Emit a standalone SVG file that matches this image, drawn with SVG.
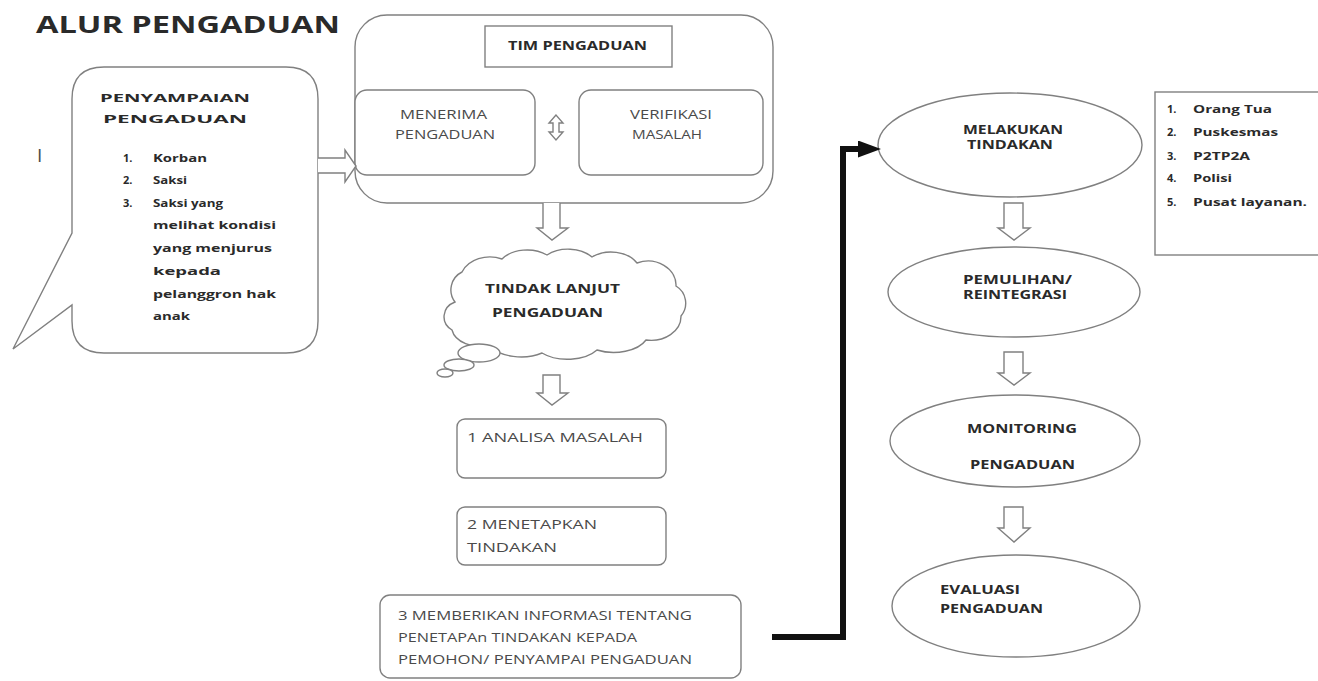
<svg xmlns="http://www.w3.org/2000/svg" width="1318" height="681" viewBox="0 0 1318 681">
<style>
.ln{fill:#fff;stroke:#808080;stroke-width:1.4}
.nf{fill:none;stroke:#808080;stroke-width:1.4}
.b{font-family:"Open Sans","Liberation Sans",sans-serif;font-weight:700;fill:#2a2a2a}
.r{font-family:"Open Sans","Liberation Sans",sans-serif;font-weight:400;fill:#4a4a4a}
.s11{font-size:11px}
.s12{font-size:12px}
</style>
<defs>
<marker id="ah" viewBox="0 0 23 17" refX="2" refY="8.5" markerWidth="23" markerHeight="17" orient="auto" markerUnits="userSpaceOnUse">
<path d="M0,0 L23,8.5 L0,17 Z" fill="#111"/>
</marker>
</defs>
<rect width="1318" height="681" fill="#fff"/>

<text class="b" x="36" y="33" font-size="24" textLength="304" lengthAdjust="spacingAndGlyphs">ALUR PENGADUAN</text>
<text class="r" x="37" y="162" font-size="19" fill="#333">I</text>

<g id="penyampaian">
<path class="ln" d="M104,67 H286 Q318,67 318,99 V321 Q318,353 286,353 H104 Q72,353 72,321 V305 L13,349 L72,233 V99 Q72,67 104,67 Z"/>
<text class="b s11" x="100" y="102" textLength="150" lengthAdjust="spacingAndGlyphs">PENYAMPAIAN</text>
<text class="b s11" x="103" y="123" textLength="144" lengthAdjust="spacingAndGlyphs">PENGADUAN</text>
<text class="b s11" x="123" y="162">1.</text>
<text class="b s11" x="153" y="162" textLength="54" lengthAdjust="spacingAndGlyphs">Korban</text>
<text class="b s11" x="123" y="184">2.</text>
<text class="b s11" x="153" y="184" textLength="34" lengthAdjust="spacingAndGlyphs">Saksi</text>
<text class="b s11" x="123" y="207">3.</text>
<text class="b s11" x="153" y="207" textLength="70" lengthAdjust="spacingAndGlyphs">Saksi yang</text>
<text class="b s11" x="153" y="229" textLength="123" lengthAdjust="spacingAndGlyphs">melihat kondisi</text>
<text class="b s11" x="153" y="252" textLength="119" lengthAdjust="spacingAndGlyphs">yang menjurus</text>
<text class="b s11" x="153" y="275" textLength="68" lengthAdjust="spacingAndGlyphs">kepada</text>
<text class="b s11" x="153" y="298" textLength="123" lengthAdjust="spacingAndGlyphs">pelanggron hak</text>
<text class="b s11" x="153" y="320" textLength="37" lengthAdjust="spacingAndGlyphs">anak</text>
</g>

<g id="tim-pengaduan">
<rect class="ln" x="355" y="15" width="418" height="188" rx="32"/>
<rect class="ln" x="485" y="26" width="187" height="41"/>
<text class="b" x="508" y="50" font-size="12" textLength="139" lengthAdjust="spacingAndGlyphs">TIM PENGADUAN</text>
</g>
<g id="menerima">
<rect class="ln" x="355" y="90" width="180" height="85" rx="12"/>
<text class="r s12" x="400" y="119" textLength="87" lengthAdjust="spacingAndGlyphs">MENERIMA</text>
<text class="r s12" x="395" y="139" textLength="100" lengthAdjust="spacingAndGlyphs">PENGADUAN</text>
</g>
<g id="verifikasi">
<rect class="ln" x="579" y="90" width="184" height="85" rx="12"/>
<text class="r s12" x="630" y="119" textLength="82" lengthAdjust="spacingAndGlyphs">VERIFIKASI</text>
<text class="r s12" x="632" y="139" textLength="70" lengthAdjust="spacingAndGlyphs">MASALAH</text>
</g>

<g id="tindak-lanjut">
<path class="ln" d="M455,302 A20 20 0 0 1 462,272 A30 24 0 0 1 502,259 A30 20 0 0 1 547,255 A30 20 0 0 1 592,257 A30 22 0 0 1 637,263 A28 24 0 0 1 676,286 A20 20 0 0 1 681,316 A30 24 0 0 1 646,340 A35 20 0 0 1 597,350 A35 20 0 0 1 542,353 A35 20 0 0 1 490,346 A30 20 0 0 1 452,330 A18 16 0 0 1 455,302 Z"/>
<ellipse class="ln" cx="479" cy="353" rx="21" ry="9"/>
<ellipse class="ln" cx="459" cy="365" rx="15" ry="6"/>
<ellipse class="ln" cx="445" cy="373" rx="8" ry="4"/>
<text class="b s12" x="485" y="293" textLength="135" lengthAdjust="spacingAndGlyphs">TINDAK LANJUT</text>
<text class="b s12" x="492" y="317" textLength="111" lengthAdjust="spacingAndGlyphs">PENGADUAN</text>
</g>

<g id="analisa">
<rect class="ln" x="457" y="419" width="209" height="59" rx="8"/>
<text class="r s12" x="467" y="442" textLength="176" lengthAdjust="spacingAndGlyphs">1 ANALISA MASALAH</text>
</g>
<g id="menetapkan">
<rect class="ln" x="457" y="507" width="209" height="58" rx="8"/>
<text class="r s12" x="467" y="529" textLength="130" lengthAdjust="spacingAndGlyphs">2 MENETAPKAN</text>
<text class="r s12" x="467" y="552" textLength="90" lengthAdjust="spacingAndGlyphs">TINDAKAN</text>
</g>
<g id="memberikan">
<rect class="ln" x="380" y="595" width="361" height="83" rx="10"/>
<text class="r s12" x="398" y="620" textLength="294" lengthAdjust="spacingAndGlyphs">3 MEMBERIKAN INFORMASI TENTANG</text>
<text class="r s12" x="398" y="642" textLength="239" lengthAdjust="spacingAndGlyphs">PENETAPAn TINDAKAN KEPADA</text>
<text class="r s12" x="398" y="664" textLength="294" lengthAdjust="spacingAndGlyphs">PEMOHON/ PENYAMPAI PENGADUAN</text>
</g>

<g id="melakukan">
<ellipse class="ln" cx="1010" cy="145" rx="132" ry="52"/>
<text class="b s12" x="963" y="134" textLength="100" lengthAdjust="spacingAndGlyphs">MELAKUKAN</text>
<text class="b s12" x="967" y="149" textLength="86" lengthAdjust="spacingAndGlyphs">TINDAKAN</text>
</g>
<g id="pemulihan">
<ellipse class="ln" cx="1014" cy="292" rx="126" ry="45"/>
<text class="b s12" x="963" y="284" textLength="109" lengthAdjust="spacingAndGlyphs">PEMULIHAN/</text>
<text class="b s12" x="963" y="299" textLength="104" lengthAdjust="spacingAndGlyphs">REINTEGRASI</text>
</g>
<g id="monitoring">
<ellipse class="ln" cx="1015" cy="441" rx="125" ry="46"/>
<text class="b s12" x="967" y="433" textLength="110" lengthAdjust="spacingAndGlyphs">MONITORING</text>
<text class="b s12" x="970" y="469" textLength="105" lengthAdjust="spacingAndGlyphs">PENGADUAN</text>
</g>
<g id="evaluasi">
<ellipse class="ln" cx="1016" cy="606" rx="124" ry="51"/>
<text class="b s12" x="940" y="594" textLength="80" lengthAdjust="spacingAndGlyphs">EVALUASI</text>
<text class="b s12" x="940" y="613" textLength="103" lengthAdjust="spacingAndGlyphs">PENGADUAN</text>
</g>

<g id="pihak">
<rect class="ln" x="1155" y="92" width="170" height="163"/>
<text class="b s11" x="1167" y="113">1.</text>
<text class="b s11" x="1193" y="113" textLength="79" lengthAdjust="spacingAndGlyphs">Orang Tua</text>
<text class="b s11" x="1167" y="136">2.</text>
<text class="b s11" x="1193" y="136" textLength="85" lengthAdjust="spacingAndGlyphs">Puskesmas</text>
<text class="b s11" x="1167" y="160">3.</text>
<text class="b s11" x="1193" y="160" textLength="57" lengthAdjust="spacingAndGlyphs">P2TP2A</text>
<text class="b s11" x="1167" y="182">4.</text>
<text class="b s11" x="1193" y="182" textLength="39" lengthAdjust="spacingAndGlyphs">Polisi</text>
<text class="b s11" x="1167" y="206">5.</text>
<text class="b s11" x="1193" y="206" textLength="114" lengthAdjust="spacingAndGlyphs">Pusat layanan.</text>
</g>

<g id="connectors">
<path class="ln" d="M318,158 H345 V150 L356,166 L345,182 V173 H318"/>
<path class="ln" d="M556,115 L549,123 H553 V132 H549 L556,140 L563,132 H559 V123 H563 Z"/>
<path class="ln" d="M543,203 V228 H537 L552,240 L568,228 H560 V203"/>
<path class="ln" d="M543,375 V393 H537 L552,405 L568,393 H560 V375 Z"/>
<path class="ln" d="M1004,203 V228 H998 L1014,240 L1030,228 H1023 V203 Z"/>
<path class="ln" d="M1004,352 V373 H998 L1014,385 L1030,373 H1023 V352 Z"/>
<path class="ln" d="M1004,507 V528 H998 L1014,542 L1030,528 H1023 V507 Z"/>
<path d="M772,637 H843 V149 H860" fill="none" stroke="#111" stroke-width="6" stroke-linejoin="miter" marker-end="url(#ah)"/>
</g>
</svg>
